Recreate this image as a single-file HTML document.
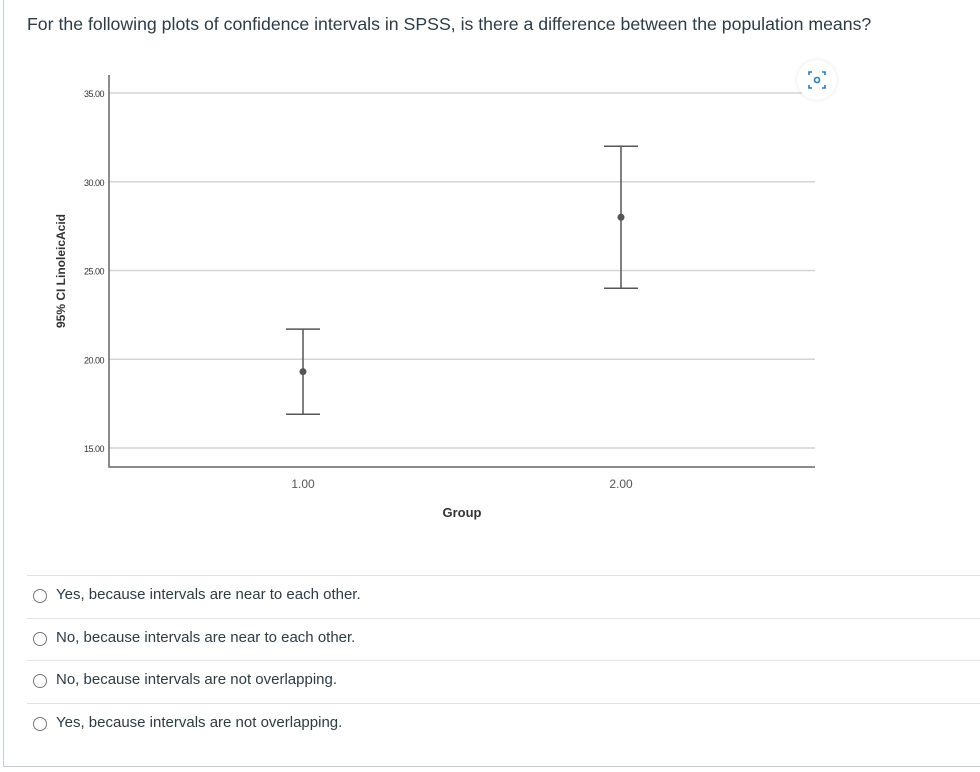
<!DOCTYPE html>
<html><head><meta charset="utf-8"><style>
body{margin:0;width:980px;height:772px;background:#fff;position:relative;overflow:hidden;font-family:"Liberation Sans",sans-serif;color:#2d3b45}
.frame{position:absolute;left:3px;top:-2px;width:990px;height:769px;border:1px solid #c7cdd1;box-sizing:border-box}
.q{position:absolute;left:27px;top:14px;font-size:17.7px}
.opt{position:absolute;left:27px;right:0;height:42px;border-top:1px solid #dfe3e5;font-size:15px}
.opt span.r{position:absolute;left:6px;top:13px;width:12px;height:12px;border:1px solid #777;border-radius:50%}
.opt span.t{position:absolute;left:29px;top:10px}
</style></head><body>
<div class="frame"></div>
<div class="q">For the following plots of confidence intervals in SPSS, is there a difference between the population means?</div>
<svg id="chart" width="980" height="560" style="position:absolute;left:0;top:0"></svg>
<div style="position:absolute;left:797px;top:60px;width:40px;height:40px;border-radius:50%;background:#fff;box-shadow:0 0 4px rgba(0,0,0,.1)">
<svg width="40" height="40"><g fill="none" stroke="#2b7abc" stroke-width="1.6"><path d="M12 15v-3h3M25 12h3v3M28 25v3h-3M15 28h-3v-3"/><circle cx="20" cy="20" r="2.5"/></g></svg></div>
<div class="opt" style="top:575px"><span class="r"></span><span class="t">Yes, because intervals are near to each other.</span></div>
<div class="opt" style="top:618px"><span class="r"></span><span class="t">No, because intervals are near to each other.</span></div>
<div class="opt" style="top:660px"><span class="r"></span><span class="t">No, because intervals are not overlapping.</span></div>
<div class="opt" style="top:703px"><span class="r"></span><span class="t">Yes, because intervals are not overlapping.</span></div>
<script>
const categories=["1.00","2.00"];
const means=[19.3,28.0];
const lowers=[16.9,24.0];
const uppers=[21.7,32.0];
const yTicks=[15,20,25,30,35];
const NS="http://www.w3.org/2000/svg";
const svg=document.getElementById('chart');
const y=v=>448-(v-15)*(448-93)/20;
const xPos=[303,621];
const x=i=>xPos[0]+i*(xPos[1]-xPos[0]);
function mk(t,a,txt){const e=document.createElementNS(NS,t);for(const k in a)e.setAttribute(k,a[k]);if(txt!=null)e.textContent=txt;svg.appendChild(e);return e;}
yTicks.forEach(v=>{
 const g=mk('line',{x1:109,x2:815,y1:y(v),y2:y(v),stroke:'#d4d4d4','stroke-width':1.5});
 
 
 const t=mk('text',{x:104,y:y(v)+4,'text-anchor':'end','font-size':9,fill:'#333','letter-spacing':'-0.5'},v.toFixed(2));
 
 
});
const ax=mk('path',{d:'M109 75V467H815',fill:'none',stroke:'#666','stroke-width':1.5});


categories.forEach((c,i)=>{
 const cx=x(i);
 const g=document.createElementNS(NS,'g');svg.appendChild(g);
 
 
 [[cx,y(lowers[i]),cx,y(uppers[i])],[cx-17,y(lowers[i]),cx+17,y(lowers[i])],[cx-17,y(uppers[i]),cx+17,y(uppers[i])]].forEach(a=>{
  const l=document.createElementNS(NS,'line');l.setAttribute('x1',a[0]);l.setAttribute('y1',a[1]);l.setAttribute('x2',a[2]);l.setAttribute('y2',a[3]);l.setAttribute('stroke','#555');l.setAttribute('stroke-width',1.5);g.appendChild(l);});
 const m=mk('circle',{cx:cx,cy:y(means[i]),r:3.5,fill:'#555'});
 
 
 const t=mk('text',{x:cx,y:488,'text-anchor':'middle','font-size':12,fill:'#555'},c);
 
 
});
const xt=mk('text',{x:462,y:517,'text-anchor':'middle','font-size':13,'font-weight':'bold',fill:'#333'},'Group');


const yt=mk('text',{x:0,y:0,'text-anchor':'middle','font-size':12,'font-weight':'bold',fill:'#333',transform:'translate(65,271) rotate(-90)'},'95% CI LinoleicAcid');


</script>
</body></html>
